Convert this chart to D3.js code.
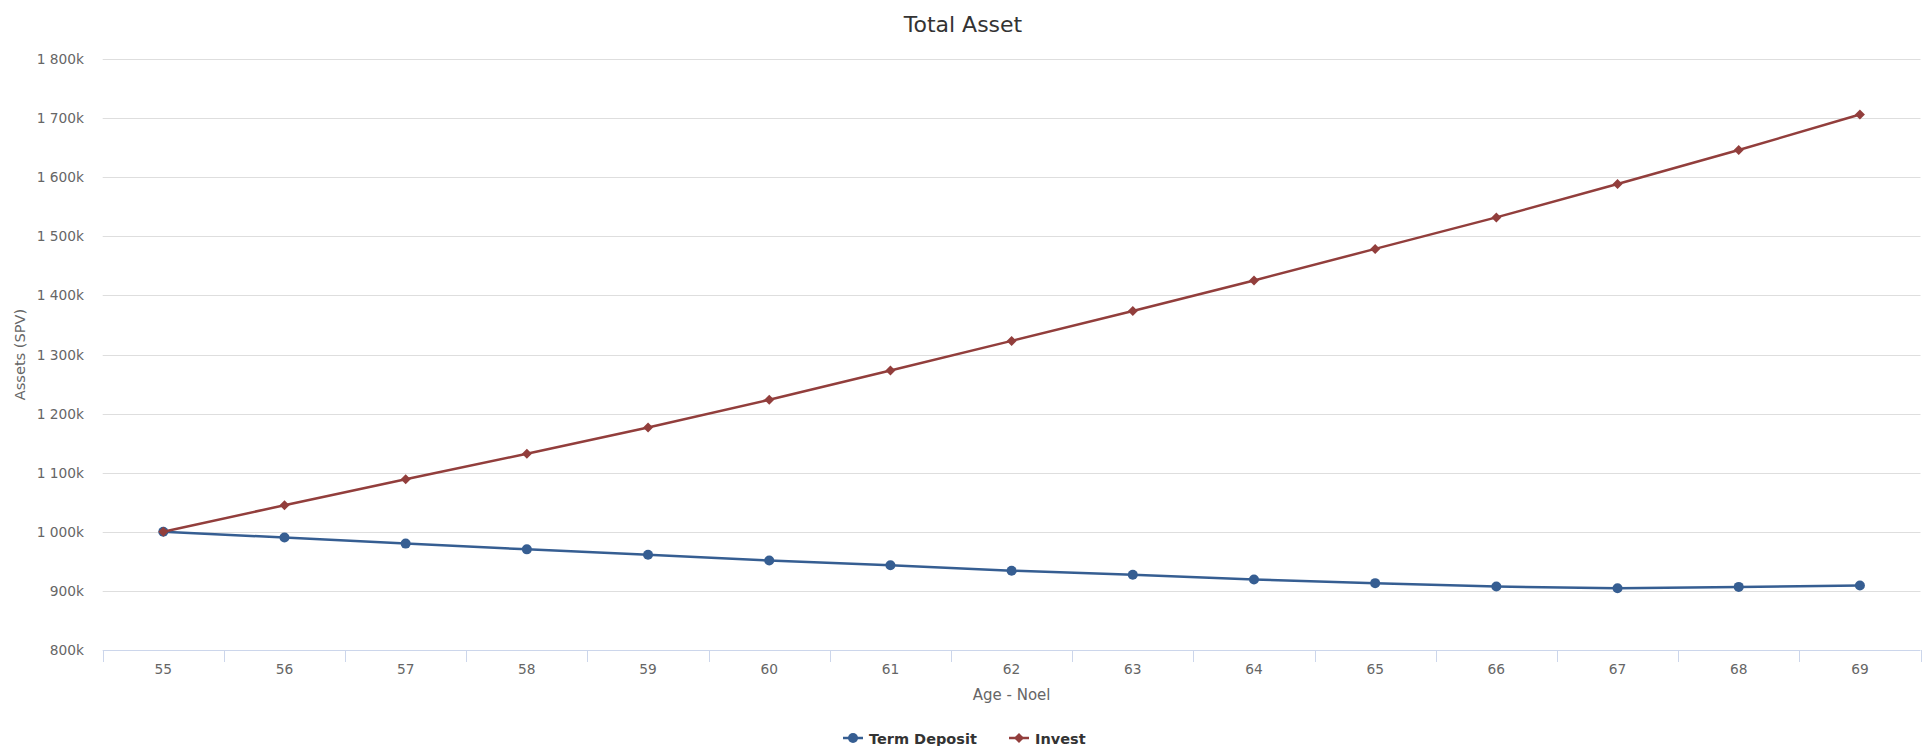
<!DOCTYPE html>
<html>
<head>
<meta charset="utf-8">
<script src="https://cdn.jsdelivr.net/npm/d3@7"></script>
<style>
  html, body { margin: 0; padding: 0; background: #fff; }
  svg { display: block; font-family: "DejaVu Sans", sans-serif; }
</style>
</head>
<body>
<svg id="chart" width="1922" height="746"></svg>
<script>
// ---- data ----
const categories = ["55","56","57","58","59","60","61","62","63","64","65","66","67","68","69"];
const termDeposit = [1000000, 990300, 980000, 970300, 961100, 951400, 943400, 934200, 927400, 919400, 913100, 907400, 904600, 906800, 909100];
const invest = [1000000, 1045000, 1089000, 1132000, 1176500, 1223500, 1273000, 1323000, 1373600, 1425300, 1478700, 1532000, 1588500, 1645900, 1706000];
const yTicks = [800000, 900000, 1000000, 1100000, 1200000, 1300000, 1400000, 1500000, 1600000, 1700000, 1800000];
const seriesNames = ["Term Deposit", "Invest"];
const titleText = "Total Asset";
const xTitle = "Age - Noel";
const yTitle = "Assets (SPV)";

// ---- layout ----
const W = 1922, H = 746;
const plot = { left: 102.7, right: 1920.5, top: 59, bottom: 650 };
const colors = { td: "#365e92", inv: "#923e3c" };

const svg = d3.select("#chart");

const x = d3.scaleBand().domain(categories).range([plot.left, plot.right]).padding(0);
const y = d3.scaleLinear().domain([800000, 1800000]).range([plot.bottom, plot.top]);
const cx = c => x(c) + x.bandwidth() / 2;

const kFmt = d3.formatLocale({ decimal: ".", thousands: " ", grouping: [3], currency: ["", ""] }).format(",");
const fmtY = v => kFmt(v / 1000) + "k";

// title
svg.append("text")
  .attr("x", W / 2 + 2).attr("y", 32)
  .attr("text-anchor", "middle")
  .attr("fill", "#333333")
  .style("font-size", "22px")
  .text(titleText);

// gridlines
svg.append("g").selectAll("line")
  .data(yTicks.filter(v => v !== 800000))
  .join("line")
  .attr("x1", plot.left).attr("x2", plot.right)
  .attr("y1", d => Math.round(y(d)) + 0.5).attr("y2", d => Math.round(y(d)) + 0.5)
  .attr("stroke", "#dedede").attr("stroke-width", 1);

// y labels
svg.append("g").selectAll("text")
  .data(yTicks)
  .join("text")
  .attr("x", 84)
  .attr("y", d => y(d) + 5)
  .attr("text-anchor", "end")
  .attr("fill", "#666666")
  .style("font-size", "13.75px")
  .text(fmtY);

// y title
svg.append("text")
  .attr("transform", `translate(25,${(plot.top + plot.bottom) / 2}) rotate(-90)`)
  .attr("text-anchor", "middle")
  .attr("fill", "#666666")
  .style("font-size", "14.6px")
  .text(yTitle);

// x axis line
svg.append("line")
  .attr("x1", plot.left).attr("x2", plot.right)
  .attr("y1", plot.bottom + 0.5).attr("y2", plot.bottom + 0.5)
  .attr("stroke", "#ccd6eb").attr("stroke-width", 1);

// x tick marks (between categories)
const boundaries = categories.map(c => x(c)).concat([x(categories[categories.length - 1]) + x.bandwidth()]);
svg.append("g").selectAll("line")
  .data(boundaries)
  .join("line")
  .attr("x1", d => Math.round(d) + 0.5).attr("x2", d => Math.round(d) + 0.5)
  .attr("y1", plot.bottom).attr("y2", plot.bottom + 12)
  .attr("stroke", "#ccd6eb").attr("stroke-width", 1);

// x labels
svg.append("g").selectAll("text")
  .data(categories)
  .join("text")
  .attr("x", d => cx(d))
  .attr("y", 674)
  .attr("text-anchor", "middle")
  .attr("fill", "#666666")
  .style("font-size", "13.75px")
  .text(d => d);

// x title
svg.append("text")
  .attr("x", (plot.left + plot.right) / 2)
  .attr("y", 700)
  .attr("text-anchor", "middle")
  .attr("fill", "#666666")
  .style("font-size", "15px")
  .text(xTitle);

// lines
const line = d3.line().x((d, i) => cx(categories[i])).y(d => y(d));

const gTD = svg.append("g");
gTD.append("path").datum(termDeposit)
  .attr("d", line).attr("fill", "none")
  .attr("stroke", colors.td).attr("stroke-width", 2.5)
  .attr("stroke-linejoin", "round").attr("stroke-linecap", "round");
gTD.selectAll("circle").data(termDeposit).join("circle")
  .attr("cx", (d, i) => cx(categories[i])).attr("cy", d => y(d))
  .attr("r", 5).attr("fill", colors.td);

const diamond = (px, py, r) => `M${px},${py - r}L${px + r},${py}L${px},${py + r}L${px - r},${py}Z`;

const gInv = svg.append("g");
gInv.append("path").datum(invest)
  .attr("d", line).attr("fill", "none")
  .attr("stroke", colors.inv).attr("stroke-width", 2.5)
  .attr("stroke-linejoin", "round").attr("stroke-linecap", "round");
gInv.selectAll("path.m").data(invest).join("path")
  .attr("class", "m")
  .attr("d", (d, i) => diamond(cx(categories[i]), y(d), 5))
  .attr("fill", colors.inv);

// legend
const legendY = 738;
const legendItems = [
  { name: seriesNames[0], color: colors.td, sym: "circle", x0: 843 },
  { name: seriesNames[1], color: colors.inv, sym: "diamond", x0: 1009 }
];
const lg = svg.append("g");
legendItems.forEach(it => {
  lg.append("line")
    .attr("x1", it.x0).attr("x2", it.x0 + 20)
    .attr("y1", legendY).attr("y2", legendY)
    .attr("stroke", it.color).attr("stroke-width", 2.5);
  if (it.sym === "circle") {
    lg.append("circle").attr("cx", it.x0 + 10).attr("cy", legendY).attr("r", 5).attr("fill", it.color);
  } else {
    lg.append("path").attr("d", diamond(it.x0 + 10, legendY, 5)).attr("fill", it.color);
  }
  lg.append("text")
    .attr("x", it.x0 + 26).attr("y", legendY + 5.5)
    .attr("fill", "#333333")
    .style("font-size", "14.5px").style("font-weight", "bold")
    .text(it.name);
});
</script>
</body>
</html>
